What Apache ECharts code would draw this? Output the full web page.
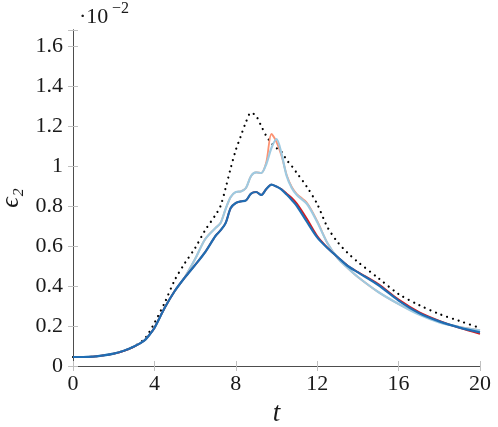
<!DOCTYPE html>
<html>
<head>
<meta charset="utf-8">
<script src="https://cdn.jsdelivr.net/npm/echarts@6/dist/echarts.min.js"></script>
<style>
  html, body { margin: 0; padding: 0; background: #fff; }
  #chart { width: 498px; height: 427px; }
  #warm { position: absolute; left: -999px; top: 0; font-family: "Liberation Serif"; font-size: 22px; }
</style>
</head>
<body>
<div id="warm">0.8 <i>t ϵ₂</i> ·10 −2</div>
<div id="chart"></div>
<script>
// time samples (shared by every curve)
var tValues = [0, 0.5, 1, 1.5, 2, 2.5, 3, 3.5, 3.75, 4,
  4.5, 5, 5.5, 6, 6.5, 7, 7.25, 7.5, 7.75, 8,
  8.25, 8.5, 8.75, 9, 9.25, 9.5, 9.75, 10, 10.25, 10.5,
  10.75, 11, 11.5, 12, 12.5, 13, 13.5, 14, 15, 16,
  17, 18, 19, 20];

// values in units of 1e-2
var darkBlue = [0.045, 0.045, 0.047, 0.053, 0.062, 0.076, 0.097, 0.127, 0.155, 0.19,
  0.29, 0.375, 0.443, 0.505, 0.57, 0.65, 0.678, 0.715, 0.79, 0.815,
  0.823, 0.828, 0.862, 0.87, 0.855, 0.885, 0.907, 0.897, 0.882, 0.857,
  0.83, 0.8, 0.72, 0.643, 0.59, 0.545, 0.5, 0.468, 0.405, 0.327,
  0.265, 0.223, 0.192, 0.168];

var red = [0.045, 0.045, 0.047, 0.053, 0.062, 0.076, 0.097, 0.127, 0.155, 0.19,
  0.29, 0.375, 0.443, 0.505, 0.57, 0.65, 0.678, 0.715, 0.79, 0.815,
  0.823, 0.828, 0.862, 0.87, 0.855, 0.885, 0.907, 0.897, 0.884, 0.862,
  0.84, 0.812, 0.735, 0.65, 0.592, 0.545, 0.502, 0.47, 0.41, 0.332,
  0.27, 0.226, 0.19, 0.16];

var lightBlue = [0.045, 0.045, 0.047, 0.053, 0.062, 0.076, 0.097, 0.127, 0.155, 0.19,
  0.29, 0.375, 0.445, 0.535, 0.635, 0.69, 0.715, 0.785, 0.845, 0.87,
  0.873, 0.89, 0.95, 0.968, 0.965, 1.01, 1.09, 1.135, 1.06, 0.95,
  0.89, 0.855, 0.81, 0.72, 0.615, 0.54, 0.49, 0.445, 0.37, 0.31,
  0.257, 0.218, 0.195, 0.178];

var orange = [0.045, 0.045, 0.047, 0.053, 0.062, 0.076, 0.097, 0.127, 0.155, 0.19,
  0.29, 0.375, 0.445, 0.535, 0.635, 0.69, 0.715, 0.785, 0.845, 0.87,
  0.873, 0.89, 0.95, 0.968, 0.965, 1.02, 1.16, 1.12, 1.05, 0.955,
  0.895, 0.86, 0.815, 0.725, 0.615, 0.54, 0.49, 0.445, 0.37, 0.31,
  0.26, 0.22, 0.195, 0.178];

var dotted = [0.045, 0.045, 0.047, 0.053, 0.062, 0.076, 0.098, 0.134, 0.17, 0.215,
  0.315, 0.43, 0.515, 0.59, 0.68, 0.755, 0.8, 0.89, 0.99, 1.08,
  1.15, 1.22, 1.267, 1.25, 1.2, 1.15, 1.115, 1.09, 1.07, 1.03,
  1.0, 0.965, 0.895, 0.81, 0.695, 0.62, 0.565, 0.52, 0.44, 0.36,
  0.305, 0.26, 0.225, 0.19];

function pairs(vals) {
  return tValues.map(function (t, i) { return [t, vals[i]]; });
}

var serif = "Liberation Serif";
var frameLine = { show: true, lineStyle: { color: "#4d4d4d", width: 1 } };
var innerTick = { show: true, inside: true, length: 5, lineStyle: { color: "#c0c0c0", width: 1 } };

function buildOption() {
  return {
    animation: false,
    textStyle: { fontFamily: serif },
    grid: { left: 73, right: 18, top: 30, bottom: 61, outerBoundsMode: "none" },
    xAxis: [
      {
        type: "value", min: 0, max: 20, interval: 4,
        axisLine: frameLine, axisTick: innerTick, splitLine: { show: false },
        axisLabel: { fontFamily: serif, fontSize: 22, color: "#1a1a1a", margin: 7 },
        name: "t", nameLocation: "middle", nameGap: 34,
        nameTextStyle: { fontFamily: serif, fontSize: 27, fontStyle: "italic", color: "#1a1a1a" }
      },
      {
        type: "value", position: "top", min: 0, max: 20, interval: 4,
        axisLine: frameLine, axisTick: innerTick, axisLabel: { show: false }, splitLine: { show: false }
      }
    ],
    yAxis: [
      {
        type: "value", min: 0, max: 1.68, interval: 0.2,
        axisLine: frameLine, axisTick: innerTick, splitLine: { show: false },
        axisLabel: {
          fontFamily: serif, fontSize: 22, color: "#1a1a1a", margin: 10,
          formatter: function (v) {
            var k = v / 0.2;
            if (Math.abs(k - Math.round(k)) > 1e-6) return "";
            return String(+v.toFixed(1));
          }
        },
        name: "ϵ₂", nameLocation: "middle", nameGap: 42, nameRotate: 90,
        nameTextStyle: { fontFamily: serif, fontSize: 26, fontStyle: "italic", color: "#1a1a1a" }
      },
      {
        type: "value", position: "right", min: 0, max: 1.68, interval: 0.2,
        axisLine: frameLine, axisTick: innerTick, axisLabel: { show: false }, splitLine: { show: false }
      }
    ],
    graphic: [
      { type: "text", left: 79, top: 6, style: { text: "·10", fontFamily: serif, fontSize: 22, fill: "#1a1a1a" } },
      { type: "text", left: 112, top: 1, style: { text: "−2", fontFamily: serif, fontSize: 16, fill: "#1a1a1a" } }
    ],
    series: [
      {
        type: "line", data: pairs(dotted), smooth: 0.3, showSymbol: false, z: 2,
        lineStyle: { color: "#000", width: 2.2, type: [0.01, 6], cap: "round" }
      },
      {
        type: "line", data: pairs(orange), smooth: 0.3, showSymbol: false, z: 3,
        lineStyle: { color: "#fc9272", width: 1.8 }
      },
      {
        type: "line", data: pairs(lightBlue), smooth: 0.3, showSymbol: false, z: 4,
        lineStyle: { color: "#9ecae1", width: 2.2 }
      },
      {
        type: "line", data: pairs(red), smooth: 0.3, showSymbol: false, z: 5,
        lineStyle: { color: "#d7191c", width: 1.8 }
      },
      {
        type: "line", data: pairs(darkBlue), smooth: 0.3, showSymbol: false, z: 6,
        lineStyle: { color: "#1f6db3", width: 2.2 }
      }
    ]
  };
}

var chart = echarts.init(document.getElementById("chart"));
chart.setOption(buildOption());

// redraw once the serif face is surely available
if (document.fonts && document.fonts.load) {
  Promise.all([
    document.fonts.load("22px \"Liberation Serif\""),
    document.fonts.load("italic 22px \"Liberation Serif\"")
  ]).then(function () {
    chart.clear();
    chart.setOption(buildOption(), true);
  });
}
</script>
</body>
</html>
